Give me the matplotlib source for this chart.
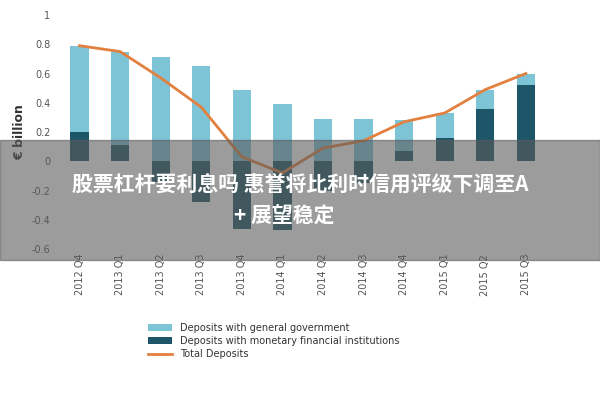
import matplotlib
matplotlib.use("Agg")
import matplotlib.pyplot as plt
import numpy as np
from matplotlib.patches import Rectangle

categories = ["2012 Q4","2013 Q1","2013 Q2","2013 Q3","2013 Q4","2014 Q1","2014 Q2",
              "2014 Q3","2014 Q4","2015 Q1","2015 Q2","2015 Q3"]
gov = [0.59,0.64,0.71,0.65,0.49,0.39,0.29,0.29,0.21,0.17,0.13,0.08]
mfi = [0.20,0.11,-0.14,-0.28,-0.46,-0.47,-0.20,-0.15,0.07,0.16,0.36,0.52]
total = [0.79,0.75,0.57,0.37,0.03,-0.08,0.09,0.14,0.27,0.33,0.49,0.60]
yticks = [-0.6,-0.4,-0.2,0,0.2,0.4,0.6,0.8,1]
ytick_labels = ["-0.6","-0.4","-0.2","0","0.2","0.4","0.6","0.8","1"]
title_lines = ["股票杠杆要利息吗 惠誉将比利时信用评级下调至A", "+ 展望稳定"]

cjk = ["Noto Sans CJK SC","Noto Sans CJK JP","Noto Sans CJK TC","Noto Sans CJK KR","DejaVu Sans"]

fig = plt.figure(figsize=(6,4), dpi=100)
ax = fig.add_axes([0.092,0.3775,0.825,0.585])
x = np.arange(len(categories))
mfi_a = np.array(mfi); gov_a = np.array(gov)
bottom_gov = np.where(mfi_a > 0, mfi_a, 0)
b1 = ax.bar(x, gov_a, 0.45, bottom=bottom_gov, color="#7ec4d7", label="Deposits with general government")
b2 = ax.bar(x, mfi_a, 0.45, color="#1d5668", label="Deposits with monetary financial institutions")
l1, = ax.plot(x, total, color="#e2803f", lw=2, label="Total Deposits")
ax.set_ylim(-0.6,1)
ax.set_xlim(-0.6,len(categories)-0.4)
ax.set_yticks(yticks); ax.set_yticklabels(ytick_labels)
ax.set_xticks(x); ax.set_xticklabels(categories, rotation=90)
ax.tick_params(length=0, labelsize=7, colors="#555555")
for s in ax.spines.values(): s.set_visible(False)
ax.set_ylabel("€ billion", fontsize=9, color="#333333", fontweight="bold")
ax.legend(handles=[b1,b2,l1], loc="upper left", bbox_to_anchor=(0.17,-0.28), frameon=False,
          fontsize=7, labelcolor="#333333", handlelength=2.5, labelspacing=0.3)

fig.patches.append(Rectangle((0,0.35),1,0.3,transform=fig.transFigure,color="#5a5a5a",alpha=0.6,zorder=10))
fig.text(0.5,0.54,title_lines[0],ha="center",va="center",color="white",fontsize=15,fontweight="bold",
         fontfamily=cjk,zorder=11)
fig.text(0.39,0.46,title_lines[1],ha="left",va="center",color="white",fontsize=15,fontweight="bold",
         fontfamily=cjk,zorder=11)
fig.savefig("out.png", dpi=100)
